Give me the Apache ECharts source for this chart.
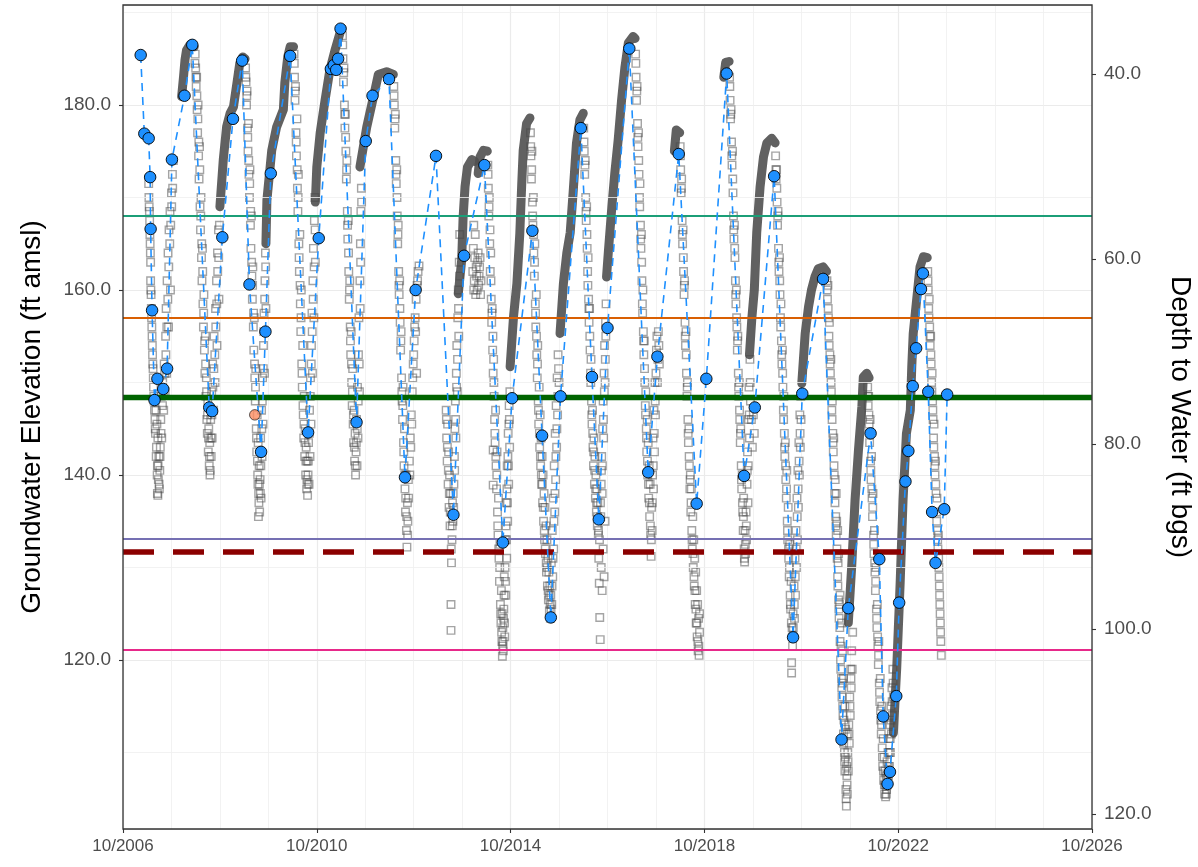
<!DOCTYPE html>
<html>
<head>
<meta charset="utf-8">
<title>Groundwater Elevation Hydrograph</title>
<script src="https://cdn.jsdelivr.net/npm/echarts@6/dist/echarts.min.js"></script>
<style>
  html, body { margin: 0; padding: 0; background: #ffffff; }
  #chart { width: 1198px; height: 867px; }
</style>
</head>
<body>
<div id="chart"></div>
<script>
// Ground surface elevation (ft amsl): depth to water = GROUND_ELEV - elevation
const GROUND_ELEV = 223.35;
// X axis runs in years counted from October 2006
const START_YEAR = 2006.75;
const ELEV_MIN = 101.73;
const ELEV_MAX = 190.81;

// Threshold / reference elevations (ft amsl)
const levelValues = [168.0, 157.05, 148.4, 133.1, 131.65, 121.15];
const levelColors = ['#1b9e77', '#d95f02', '#006400', '#7570b3', '#8b0000', '#e7298a'];
const levelWidths = [2, 2, 5.3, 2, 5.6, 2];
const levelDashed = [false, false, false, false, true, false];

// Minor horizontal grid lines
const minorElevGrid = [110, 130, 150, 170, 190];

// Manual water level soundings [decimal year, elevation]
const manualLevels = [
  [2007.115,185.4],[2007.19,176.9],[2007.28,176.4],[2007.31,172.2],[2007.32,166.6],[2007.35,157.8],
  [2007.40,148.1],[2007.46,150.4],[2007.58,149.3],[2007.66,151.5],[2007.76,174.1],[2008.02,181.0],
  [2008.18,186.5],[2008.53,147.3],[2008.59,146.9],[2008.80,165.7],[2009.02,178.5],[2009.21,184.8],
  [2009.36,160.6],[2009.60,142.5],[2009.69,155.5],[2009.80,172.6],[2010.20,185.3],[2010.57,144.6],
  [2010.79,165.6],[2011.04,183.9],[2011.10,184.3],[2011.15,183.8],[2011.19,185.0],[2011.24,188.25],
  [2011.57,145.7],[2011.76,176.1],[2011.90,181.0],[2012.24,182.8],[2012.57,139.75],[2012.79,160.0],
  [2013.21,174.5],[2013.57,135.7],[2013.79,163.7],[2014.21,173.5],[2014.59,132.7],[2014.78,148.3],
  [2015.20,166.4],[2015.40,144.25],[2015.58,124.6],[2015.78,148.5],[2016.20,177.5],[2016.43,150.6],
  [2016.57,135.2],[2016.75,155.9],[2017.20,186.1],[2017.59,140.3],[2017.78,152.8],[2018.22,174.7],
  [2018.59,136.9],[2018.79,150.4],[2019.21,183.4],[2019.57,139.9],[2019.79,147.3],[2020.19,172.3],
  [2020.58,122.45],[2020.77,148.8],[2021.20,161.2],[2021.58,111.4],[2021.72,125.6],[2022.18,144.5],
  [2022.36,130.9],[2022.44,113.9],[2022.53,106.6],[2022.58,107.9],[2022.71,116.1],[2022.77,126.2],
  [2022.90,139.3],[2022.96,142.6],[2023.05,149.6],[2023.12,153.7],[2023.22,160.1],[2023.26,161.8],
  [2023.37,149.0],[2023.45,136.0],[2023.52,130.5],[2023.70,136.3],[2023.76,148.7]
];

// Questionable manual sounding
const flaggedLevels = [[2009.47,146.5]];

// Transducer record, recovery limbs (continuous readings)
const loggerRecovery = [
  [[2007.96,180.9],[2008.00,183.1],[2008.03,184.9],[2008.06,185.9],[2008.13,186.5],[2008.22,186.3]],
  [[2008.75,169.0],[2008.82,174.1],[2008.89,177.7],[2008.96,179.1],[2009.03,179.8],[2009.10,182.3],[2009.16,184.5],[2009.22,185.2],[2009.27,185.0]],
  [[2009.70,165.0],[2009.72,169.7],[2009.82,175.1],[2009.92,177.6],[2010.06,179.5],[2010.09,182.4],[2010.15,185.2],[2010.20,186.3],[2010.27,186.3]],
  [[2010.72,169.5],[2010.75,173.3],[2010.82,177.0],[2010.92,180.5],[2011.02,183.8],[2011.13,186.0],[2011.23,187.8],[2011.27,188.3]],
  [[2011.64,173.3],[2011.78,177.6],[2011.95,181.6],[2012.02,183.3],[2012.19,183.6],[2012.33,183.3]],
  [[2013.67,159.6],[2013.74,163.2],[2013.77,167.9],[2013.81,171.2],[2013.86,173.3],[2013.95,174.1],[2014.01,173.9]],
  [[2014.08,172.6],[2014.12,174.4],[2014.19,175.1],[2014.27,175.0]],
  [[2014.74,151.7],[2014.81,157.1],[2014.88,160.7],[2014.94,166.1],[2014.98,171.5],[2015.01,175.1],[2015.08,178.0],[2015.15,178.6]],
  [[2015.77,155.3],[2015.84,160.7],[2015.91,164.0],[2015.98,166.2],[2016.04,170.5],[2016.11,175.9],[2016.18,178.4],[2016.25,179.1]],
  [[2016.73,161.4],[2016.77,164.3],[2016.84,169.0],[2016.90,172.6],[2016.97,176.2],[2017.04,180.5],[2017.11,184.1],[2017.18,186.7],[2017.28,187.4],[2017.32,187.2]],
  [[2018.13,175.0],[2018.17,177.3],[2018.24,177.0]],
  [[2019.15,183.0],[2019.19,184.6],[2019.26,184.7]],
  [[2019.68,153.0],[2019.73,157.0],[2019.78,160.0],[2019.83,166.2],[2019.90,171.2],[2019.97,174.4],[2020.04,175.9],[2020.14,176.4],[2020.21,175.9]],
  [[2020.76,149.9],[2020.83,155.3],[2020.90,158.2],[2020.96,160.0],[2021.03,161.4],[2021.10,162.3],[2021.20,162.5],[2021.27,162.0]],
  [[2021.72,124.0],[2021.79,130.1],[2021.86,137.3],[2021.93,142.7],[2022.00,147.4],[2022.03,150.6],[2022.10,151.0],[2022.15,150.5]],
  [[2022.65,112.1],[2022.72,119.2],[2022.79,128.3],[2022.85,137.3],[2022.92,144.5],[2023.00,147.0],[2023.03,151.7],[2023.06,155.3],[2023.13,158.9],[2023.20,162.5],[2023.27,163.6],[2023.35,163.5]]
];

// Transducer record, pumping seasons (readings swing with pump cycling)
const pumping2007 = [
  [2007.28,171.5],[2007.29,169],[2007.30,167.5],[2007.31,165],[2007.32,163],[2007.32,161],[2007.33,159.5],[2007.34,157],
  [2007.35,155],[2007.36,153],[2007.37,151.5],[2007.38,149.5],[2007.39,148],[2007.41,146],[2007.42,144.5],[2007.43,147],
  [2007.44,143],[2007.45,145.5],[2007.46,141],[2007.46,138],[2007.47,137.8],[2007.47,144],[2007.48,139.5],[2007.49,142],
  [2007.50,138.5],[2007.51,140.5],[2007.52,143],[2007.53,146],[2007.54,148.5],[2007.55,144],[2007.57,150],[2007.59,147],
  [2007.60,152],[2007.62,149],[2007.63,155],[2007.64,158],[2007.65,151],[2007.66,161],[2007.68,164],[2007.69,156],
  [2007.70,166.5],[2007.72,168.5],[2007.73,160],[2007.75,170.5],[2007.77,172.5],[2007.79,174],
  [2007.285,170],[2007.295,168.5],[2007.305,166],[2007.315,164],[2007.325,160],[2007.335,158],[2007.345,156],[2007.355,154],
  [2007.365,152],[2007.375,150.5],[2007.385,148.5],[2007.40,147],[2007.415,145],[2007.435,142],[2007.455,140],[2007.475,141],
  [2007.495,139],[2007.515,142],[2007.535,144.5],[2007.565,147.5],[2007.585,149],[2007.61,151],[2007.635,153],[2007.655,156],
  [2007.675,159],[2007.695,162.5],[2007.715,165],[2007.735,167],[2007.755,169],[2007.775,171]
];
const pumping2008 = [
  [2008.24,185.5],[2008.25,184],[2008.26,182],[2008.27,183],[2008.28,179.5],[2008.29,177],[2008.30,180],[2008.31,174.5],
  [2008.32,172],[2008.33,175.5],[2008.34,169],[2008.35,166.5],[2008.36,170],[2008.37,163.5],[2008.38,161],[2008.39,164.5],
  [2008.40,158.5],[2008.41,156],[2008.42,159.5],[2008.43,153.5],[2008.44,151],[2008.45,155],[2008.46,148.5],[2008.47,150.5],
  [2008.48,146],[2008.49,144.5],[2008.50,148],[2008.51,142.5],[2008.52,145],[2008.53,141],[2008.54,143.5],[2008.55,140.5],
  [2008.56,146],[2008.57,142],[2008.58,149],[2008.59,144],[2008.60,152],[2008.62,147],[2008.63,155],[2008.65,150],
  [2008.66,158],[2008.68,161],[2008.69,154],[2008.70,164],[2008.72,166.5],[2008.73,159],
  [2008.235,184.5],[2008.255,183],[2008.275,181],[2008.295,178.5],[2008.315,176],[2008.335,173],[2008.355,168],[2008.375,165],
  [2008.395,162],[2008.415,157.5],[2008.435,154.5],[2008.455,152],[2008.475,149],[2008.495,146.5],[2008.515,144],[2008.535,142],
  [2008.545,140],[2008.565,144],[2008.585,146.5],[2008.605,149.5],[2008.625,151.5],[2008.645,153],[2008.665,156],[2008.685,158.5],
  [2008.705,162],[2008.725,163.5],[2008.74,167]
];
const pumping2009 = [
  [2009.28,184],[2009.29,182.5],[2009.30,180],[2009.31,181.5],[2009.32,177.5],[2009.33,175],[2009.34,178],[2009.35,172.5],
  [2009.36,170],[2009.37,173],[2009.38,167],[2009.39,164.5],[2009.40,168],[2009.41,161.5],[2009.42,159],[2009.43,162.5],
  [2009.44,156],[2009.45,153.5],[2009.46,157],[2009.47,150.5],[2009.48,148],[2009.49,151.5],[2009.50,145],[2009.51,142.5],
  [2009.52,146.5],[2009.53,140],[2009.54,143.5],[2009.545,135.5],[2009.55,138],[2009.56,141],[2009.57,136],[2009.58,139.5],
  [2009.59,144],[2009.60,137.5],[2009.61,147],[2009.62,142],[2009.63,150.5],[2009.64,145.5],[2009.65,154],[2009.66,157.5],
  [2009.67,151],[2009.68,161],[2009.69,164],[2009.70,158],
  [2009.285,183],[2009.305,181],[2009.325,176.5],[2009.345,174],[2009.365,171.5],[2009.385,168.5],[2009.405,163],[2009.425,160.5],
  [2009.445,157.5],[2009.465,152],[2009.485,149.5],[2009.505,144],[2009.525,141.5],[2009.535,139],[2009.555,137],[2009.565,139],
  [2009.585,138],[2009.595,141],[2009.615,145],[2009.625,148],[2009.645,151.5],[2009.655,155.5],[2009.675,159],[2009.695,162.5]
];
const pumping2010 = [
  [2010.28,185.5],[2010.29,183],[2010.30,180.5],[2010.31,182],[2010.32,177],[2010.33,174.5],[2010.34,178.5],[2010.35,171],
  [2010.36,168.5],[2010.37,172.5],[2010.38,165],[2010.39,162],[2010.40,166],[2010.41,158.5],[2010.42,155.5],[2010.43,160],
  [2010.44,152],[2010.45,149.5],[2010.46,154],[2010.47,146.5],[2010.48,144],[2010.49,148.5],[2010.50,142],[2010.51,145],
  [2010.52,140],[2010.53,143],[2010.54,138.5],[2010.55,141.5],[2010.56,137.8],[2010.57,140],[2010.58,143.5],[2010.59,139],
  [2010.60,147],[2010.61,142],[2010.62,150.5],[2010.63,145.5],[2010.64,154],[2010.65,157.5],[2010.66,151],[2010.67,161],
  [2010.68,164.5],[2010.69,157],[2010.70,167.5],[2010.71,170],[2010.72,163],
  [2010.285,184.5],[2010.305,181.5],[2010.325,176],[2010.345,173],[2010.365,170],[2010.385,163.5],[2010.405,160.5],[2010.425,157],
  [2010.445,151],[2010.465,147.5],[2010.485,145.5],[2010.505,143.5],[2010.525,141.5],[2010.545,139.5],[2010.565,139],[2010.575,141.5],
  [2010.595,144.5],[2010.615,148.5],[2010.635,152],[2010.655,155.5],[2010.675,159],[2010.695,162.5],[2010.715,166.5]
];
const pumping2011 = [
  [2011.28,187.5],[2011.29,185],[2011.30,182.5],[2011.31,184],[2011.32,180],[2011.33,177.5],[2011.34,179],[2011.35,175],
  [2011.36,172],[2011.37,174],[2011.38,168.5],[2011.39,165.5],[2011.40,167.5],[2011.41,162],[2011.42,159],[2011.43,161],
  [2011.44,156],[2011.45,153],[2011.46,155.5],[2011.47,150],[2011.48,147.5],[2011.49,151.5],[2011.50,145.5],[2011.51,143.5],
  [2011.52,147],[2011.53,141.5],[2011.54,144.5],[2011.55,140],[2011.56,142.5],[2011.57,146],[2011.58,141],[2011.59,149.5],
  [2011.60,144],[2011.61,153],[2011.62,157],[2011.63,149],[2011.64,161],[2011.65,165],[2011.66,168.5],[2011.67,171],
  [2011.285,186.5],[2011.305,183.5],[2011.325,179],[2011.345,176.5],[2011.365,173],[2011.385,167],[2011.405,164],[2011.425,160],
  [2011.445,154.5],[2011.465,152],[2011.485,149],[2011.505,146.5],[2011.525,143],[2011.545,141],[2011.565,143.5],[2011.585,145],
  [2011.605,148],[2011.625,152],[2011.645,158],[2011.655,163],[2011.675,169.5]
];
const pumping2012 = [
  [2012.34,182],[2012.35,180],[2012.36,177.5],[2012.37,179],[2012.38,174],[2012.39,171.5],[2012.40,173],[2012.41,168],
  [2012.42,165],[2012.43,167],[2012.44,162],[2012.45,159.5],[2012.46,161],[2012.47,156.5],[2012.48,153.5],[2012.49,155.5],
  [2012.50,150.5],[2012.51,148],[2012.52,146],[2012.53,149.5],[2012.54,143.5],[2012.55,141],[2012.56,145],[2012.57,138.5],
  [2012.58,136],[2012.59,140],[2012.60,134],[2012.61,132.2],[2012.62,137],[2012.63,135],[2012.64,139.5],[2012.66,141.5],
  [2012.68,144],[2012.70,146.5],[2012.72,149],[2012.74,152],[2012.76,154.5],[2012.78,157],[2012.79,155.5],[2012.80,159],
  [2012.81,151],[2012.82,160.5],[2012.84,162],[2012.86,162.6],
  [2012.345,181],[2012.365,178.5],[2012.385,172.5],[2012.405,170],[2012.425,166],[2012.445,160.5],[2012.465,158],[2012.485,154.5],
  [2012.505,149],[2012.525,147.5],[2012.545,142.5],[2012.565,140],[2012.585,137.5],[2012.605,135.5],[2012.625,133.5],[2012.645,137.5],
  [2012.67,140],[2012.69,143],[2012.71,145.5],[2012.73,150.5],[2012.75,153],[2012.77,156],[2012.83,161]
];
const pumping2013 = [
  [2013.42,147],[2013.43,144],[2013.44,141.5],[2013.45,145.5],[2013.46,139],[2013.47,142.5],[2013.48,136.5],[2013.49,140],
  [2013.50,134.5],[2013.51,138],[2013.52,126],[2013.52,123.2],[2013.53,130.5],[2013.54,133],[2013.55,137],[2013.56,135],
  [2013.58,139],[2013.59,142],[2013.60,145],[2013.61,148],[2013.62,144],[2013.63,151],[2013.64,154],[2013.65,149],
  [2013.66,157],[2013.67,160],[2013.68,155],[2013.69,163],[2013.70,166],
  [2013.97,162],[2013.99,160],[2013.99,167],[2014.01,163.5],[2014.02,166],[2014.03,159.5],[2014.05,161.5],[2014.07,163],
  [2014.09,160.5],[2014.11,162.5],[2014.13,159.5],
  [2013.425,146],[2013.445,143],[2013.465,140.5],[2013.485,138],[2013.505,136],[2013.525,132],[2013.545,134.5],[2013.565,138],
  [2013.575,136.5],[2013.595,140.5],[2013.615,146],[2013.635,149.5],[2013.655,152.5],[2013.675,158],[2013.695,161.5],
  [2013.98,164.5],[2014.00,161],[2014.04,162.5],[2014.06,160],[2014.08,164],[2014.10,161.5],[2014.12,163.5],[2014.14,161]
];
const pumping2014 = [
  [2014.28,173.5],[2014.29,171],[2014.30,168],[2014.31,170],[2014.32,165],[2014.33,162],[2014.34,164],[2014.35,159],
  [2014.36,156.5],[2014.37,158],[2014.38,153.5],[2014.39,151],[2014.39,142.7],[2014.39,138.9],[2014.40,152.5],[2014.41,148.5],
  [2014.42,146],[2014.43,143.5],[2014.44,147],[2014.45,141],[2014.46,138.5],[2014.47,142.5],[2014.48,136],[2014.49,133.5],
  [2014.50,137.5],[2014.51,131],[2014.52,128.5],[2014.53,132.5],[2014.54,126],[2014.55,124],[2014.56,127.5],[2014.57,122],
  [2014.58,120.4],[2014.59,123.5],[2014.60,121],[2014.61,125.5],[2014.62,129],[2014.63,122.5],[2014.64,133],[2014.65,127],
  [2014.66,137],[2014.67,131],[2014.68,141],[2014.69,135],[2014.70,144.5],[2014.71,139],[2014.72,147.5],[2014.73,143],
  [2014.285,172.5],[2014.305,169],[2014.325,166.5],[2014.345,161],[2014.365,157.5],[2014.385,155],[2014.405,150],[2014.425,144.5],
  [2014.445,142],[2014.465,140],[2014.485,134.5],[2014.505,132],[2014.525,130],[2014.545,125],[2014.565,123],[2014.575,125],
  [2014.585,121.5],[2014.595,122],[2014.605,124.5],[2014.615,127],[2014.625,124],[2014.635,130],[2014.645,128.5],[2014.655,134.5],
  [2014.665,133],[2014.675,138.5],[2014.685,137],[2014.695,142],[2014.705,141],[2014.715,145.5],[2014.725,146],[2014.735,149]
];
const pumping2015 = [
  [2015.16,177],[2015.17,174.5],[2015.18,172],[2015.19,175],[2015.20,169.5],[2015.21,167],[2015.22,170],[2015.23,164],
  [2015.24,161.5],[2015.25,165],[2015.26,158.5],[2015.27,156],[2015.28,159.5],[2015.29,153],[2015.30,150.5],[2015.31,154],
  [2015.32,148],[2015.33,145.5],[2015.34,149.5],[2015.35,143],[2015.36,146.5],[2015.37,141],[2015.38,144],[2015.39,139],
  [2015.40,142],[2015.41,137],[2015.42,140],[2015.43,135],[2015.44,138],[2015.45,133],[2015.46,136.5],[2015.47,131.5],
  [2015.48,134.5],[2015.49,129.5],[2015.50,133],[2015.51,128],[2015.52,131],[2015.53,126.5],[2015.54,129.5],[2015.55,125.3],
  [2015.56,128],[2015.57,124.5],[2015.58,127],[2015.59,130.5],[2015.60,126],[2015.61,134],[2015.62,129],[2015.63,137.5],
  [2015.64,132],[2015.65,141],[2015.66,136],[2015.67,144.5],[2015.68,139.5],[2015.69,147.5],[2015.70,143],[2015.71,150.5],
  [2015.72,146.5],[2015.73,153],[2015.75,150],
  [2015.165,175.5],[2015.185,173],[2015.205,168],[2015.225,166],[2015.245,163],[2015.265,157.5],[2015.285,155],[2015.305,152],
  [2015.325,147],[2015.345,144.5],[2015.365,142],[2015.385,140],[2015.405,139],[2015.425,136.5],[2015.445,134],[2015.465,132],
  [2015.485,130.5],[2015.505,130],[2015.525,127.5],[2015.545,127],[2015.565,126],[2015.585,125.5],[2015.605,128],[2015.625,131],
  [2015.645,135],[2015.665,138],[2015.685,142],[2015.705,145],[2015.725,148.5],[2015.74,151.5]
];
const pumping2016 = [
  [2016.26,177.5],[2016.27,175],[2016.28,172.5],[2016.29,174],[2016.30,170],[2016.31,167.5],[2016.32,169],[2016.33,164.5],
  [2016.34,162],[2016.35,163.5],[2016.36,159],[2016.37,156.5],[2016.38,158],[2016.39,153.5],[2016.40,151],[2016.41,152.5],
  [2016.42,148],[2016.43,145.5],[2016.44,147],[2016.45,143],[2016.46,141],[2016.47,144],[2016.48,139],[2016.49,142],
  [2016.50,137.5],[2016.51,140],[2016.52,136],[2016.53,138.5],[2016.54,134.5],[2016.55,137],[2016.56,133.5],[2016.57,131],
  [2016.58,128.3],[2016.59,124.6],[2016.60,122.2],[2016.61,135.5],[2016.62,139],[2016.63,142],[2016.64,138],[2016.65,145],
  [2016.66,148],[2016.67,144],[2016.68,151],[2016.69,154],[2016.70,150],[2016.71,156.5],[2016.72,158.5],
  [2016.265,176],[2016.285,173.5],[2016.305,168.5],[2016.325,166],[2016.345,160.5],[2016.365,158],[2016.385,155],[2016.405,150],
  [2016.425,146.5],[2016.445,144.5],[2016.465,142.5],[2016.485,140.5],[2016.505,138.5],[2016.525,137],[2016.545,135.5],[2016.565,134],
  [2016.585,133],[2016.605,137],[2016.625,140.5],[2016.645,141],[2016.665,146],[2016.685,149],[2016.705,152.5],[2016.715,155],
  [2016.62,130],[2016.64,127.5],[2016.66,132],[2016.68,129],[2016.70,135]
];
const pumping2017 = [
  [2017.33,185.5],[2017.34,183],[2017.35,180.5],[2017.36,182],[2017.37,178],[2017.38,175.5],[2017.39,177],[2017.40,172.5],
  [2017.41,170],[2017.42,171.5],[2017.43,167],[2017.44,164.5],[2017.45,166],[2017.46,161],[2017.47,158.5],[2017.48,160],
  [2017.49,155.5],[2017.50,153],[2017.51,154.5],[2017.52,150],[2017.53,147.5],[2017.54,149],[2017.55,145],[2017.56,142.5],
  [2017.57,146],[2017.58,140],[2017.59,143.5],[2017.60,137.5],[2017.61,141],[2017.62,135.5],[2017.63,139],[2017.64,133.5],
  [2017.65,131.2],[2017.66,136.5],[2017.67,134],[2017.68,140],[2017.69,144],[2017.70,138.5],[2017.71,147],[2017.72,142.5],
  [2017.73,150],[2017.74,146.5],[2017.76,153.5],[2017.78,150],[2017.80,155.5],[2017.82,152],
  [2017.335,184.5],[2017.355,181.5],[2017.375,176.5],[2017.395,174],[2017.415,169],[2017.435,165.5],[2017.455,163],[2017.475,157.5],
  [2017.495,154.5],[2017.515,151.5],[2017.535,146.5],[2017.555,144],[2017.575,141.5],[2017.595,139],[2017.615,137],[2017.635,134.5],
  [2017.655,133],[2017.675,137],[2017.695,141],[2017.715,144.5],[2017.735,148],[2017.75,151],[2017.77,155],[2017.79,152.5],[2017.81,154]
];
const pumping2018 = [
  [2018.25,175.5],[2018.26,173],[2018.27,170.5],[2018.28,172],[2018.29,167.5],[2018.30,165],[2018.31,166.5],[2018.32,162],
  [2018.33,159.5],[2018.34,161],[2018.35,156.5],[2018.36,154],[2018.37,155.5],[2018.38,151],[2018.39,148.5],[2018.40,150],
  [2018.41,146],[2018.42,143.5],[2018.43,145],[2018.44,141],[2018.45,138.5],[2018.46,140],[2018.47,136],[2018.48,138.5],
  [2018.49,134],[2018.50,132],[2018.51,135.5],[2018.52,130],[2018.53,133],[2018.54,128],[2018.55,131],[2018.56,126],
  [2018.57,129.5],[2018.58,124],[2018.59,127.5],[2018.60,122.5],[2018.61,126],[2018.62,121],[2018.63,124.5],[2018.64,120.5],
  [2018.65,123],
  [2018.255,174.5],[2018.275,171],[2018.295,166],[2018.315,163.5],[2018.335,160.5],[2018.355,155],[2018.375,153],[2018.395,149.5],
  [2018.415,144.5],[2018.435,142],[2018.455,139.5],[2018.475,137],[2018.495,133],[2018.515,131.5],[2018.535,129],[2018.555,127.5],
  [2018.575,125.5],[2018.595,124],[2018.615,122],[2018.635,121.5],[2018.65,125]
];
const pumping2019 = [
  [2019.27,183],[2019.28,180.5],[2019.29,178.5],[2019.30,179.5],[2019.31,176],[2019.32,173.5],[2019.33,175],[2019.34,170.5],
  [2019.35,168],[2019.36,165.5],[2019.37,167],[2019.38,163.5],[2019.39,161],[2019.40,158.5],[2019.41,160],[2019.42,156],
  [2019.43,153.5],[2019.44,155],[2019.45,151],[2019.46,148.5],[2019.47,150],[2019.48,146],[2019.49,143.5],[2019.50,145],
  [2019.51,141],[2019.52,138.5],[2019.53,140],[2019.54,136],[2019.55,134],[2019.56,137.5],[2019.57,132],[2019.58,130.6],
  [2019.59,134],[2019.60,131.5],[2019.61,136],[2019.62,133],[2019.63,139],[2019.64,142.5],[2019.65,137],[2019.66,146],
  [2019.67,149.5],[2019.68,144],[2019.69,152.5],[2019.70,148],
  [2019.275,182],[2019.295,179],[2019.315,174.5],[2019.335,172],[2019.355,166.5],[2019.375,164.5],[2019.395,159.5],[2019.415,157],
  [2019.435,154.5],[2019.455,149.5],[2019.475,147],[2019.495,144.5],[2019.515,139.5],[2019.535,137],[2019.555,135.5],[2019.575,131],
  [2019.595,132.5],[2019.615,134.5],[2019.635,140.5],[2019.655,141],[2019.675,146.5],[2019.695,150],[2019.72,146],[2019.74,143],
  [2019.76,146.5],[2019.78,144.5]
];
const pumping2020 = [
  [2020.22,174.5],[2020.23,172],[2020.24,173],[2020.25,169.5],[2020.26,167],[2020.27,168.5],[2020.28,164.5],[2020.29,162],
  [2020.30,163.5],[2020.31,159.5],[2020.32,157],[2020.33,158.5],[2020.34,154.5],[2020.35,152],[2020.36,153.5],[2020.37,149.5],
  [2020.38,147],[2020.39,148.5],[2020.40,144.5],[2020.41,142],[2020.42,143.5],[2020.43,139.5],[2020.44,137.5],[2020.45,140.5],
  [2020.46,135],[2020.47,133],[2020.48,136.5],[2020.49,131],[2020.50,129],[2020.51,132.5],[2020.52,127],[2020.53,125.5],
  [2020.54,128.5],[2020.55,119.7],[2020.55,118.6],[2020.56,123.5],[2020.57,121.5],[2020.58,125],[2020.59,122.5],[2020.60,128],
  [2020.61,124.5],[2020.62,131],[2020.63,127],[2020.64,134],[2020.65,130],[2020.66,137.5],[2020.67,133],[2020.68,140.5],
  [2020.69,136.5],[2020.70,143.5],[2020.71,140],[2020.72,146.5],[2020.73,143],[2020.74,148.5],
  [2020.225,173],[2020.245,171],[2020.265,168],[2020.285,163],[2020.305,161],[2020.325,156],[2020.345,153],[2020.365,151],
  [2020.385,146],[2020.405,143],[2020.425,141],[2020.445,138.5],[2020.465,134],[2020.485,132],[2020.505,130],[2020.525,126],
  [2020.545,124],[2020.565,122.5],[2020.585,123.5],[2020.605,126],[2020.625,129],[2020.645,132],[2020.665,135.5],[2020.685,138.5],
  [2020.705,141.5],[2020.725,144.5],[2020.745,146]
];
const pumping2021 = [
  [2021.28,161],[2021.29,159],[2021.30,160.5],[2021.31,157],[2021.32,155],[2021.33,156.5],[2021.34,153],[2021.35,151],
  [2021.36,152.5],[2021.37,149],[2021.38,147],[2021.39,148],[2021.40,144.5],[2021.41,142.5],[2021.42,144],[2021.43,140],
  [2021.44,138],[2021.45,139.5],[2021.46,135.5],[2021.47,133.5],[2021.47,138],[2021.48,135],[2021.49,131],[2021.50,129],
  [2021.50,134],[2021.51,130.5],[2021.52,126.5],[2021.52,131.5],[2021.53,124.5],[2021.54,126],[2021.55,122],[2021.55,127],
  [2021.56,120],[2021.57,121.5],[2021.58,118],[2021.58,124],[2021.59,116],[2021.60,117.5],[2021.60,121],[2021.61,114],
  [2021.62,112],[2021.62,118],[2021.63,113.5],[2021.64,110],[2021.65,108],[2021.65,115],[2021.66,109.5],[2021.66,112.5],
  [2021.67,106],[2021.68,104.2],[2021.69,107.5],[2021.70,105.5],[2021.70,112],[2021.71,110],[2021.72,108],[2021.73,113],
  [2021.74,111],[2021.75,116],[2021.76,114],[2021.77,119],[2021.78,117],
  [2021.285,160],[2021.305,158],[2021.325,154],[2021.345,152],[2021.365,150],[2021.385,146],[2021.405,143.5],[2021.425,141],
  [2021.445,137],[2021.465,134.5],[2021.485,132],[2021.505,128],[2021.525,125.5],[2021.545,123.5],[2021.565,119],[2021.585,117],
  [2021.605,115],[2021.625,111],[2021.645,109],[2021.655,113],[2021.675,105],[2021.685,108.5],[2021.695,106.5],[2021.715,109],
  [2021.735,112],[2021.755,115],[2021.775,118],[2021.79,121],[2021.80,119],[2021.81,123]
];
const pumping2022 = [
  [2022.12,149.5],[2022.13,147.5],[2022.14,148.5],[2022.15,145.5],[2022.16,143.5],[2022.17,146],[2022.18,141.5],[2022.19,139.5],
  [2022.20,142],[2022.21,137.5],[2022.22,135.5],[2022.23,138],[2022.24,133.5],[2022.25,131.5],[2022.26,134],[2022.27,129.5],
  [2022.28,127.5],[2022.29,130],[2022.30,125.5],[2022.31,123.5],[2022.32,126],[2022.33,121.5],[2022.34,119.5],[2022.35,122],
  [2022.36,117.5],[2022.37,115.5],[2022.38,118],[2022.39,113.5],[2022.40,112],[2022.41,115],[2022.42,110.5],[2022.43,108.5],
  [2022.44,111.5],[2022.45,107],[2022.46,109.5],[2022.47,105.5],[2022.48,108],[2022.49,105.2],[2022.50,107.5],[2022.51,106],
  [2022.52,109],[2022.53,106.5],[2022.54,110],[2022.55,107.5],[2022.56,111.5],[2022.57,108.5],[2022.58,113],[2022.59,110],
  [2022.60,115],[2022.61,112],[2022.62,117],[2022.63,114],[2022.64,119],[2022.65,116],
  [2022.125,148.5],[2022.145,146.5],[2022.165,144.5],[2022.185,140.5],[2022.205,138.5],[2022.225,136.5],[2022.245,132.5],[2022.265,130.5],
  [2022.285,128.5],[2022.305,124.5],[2022.325,122.5],[2022.345,120.5],[2022.365,116.5],[2022.385,114.5],[2022.405,113],[2022.425,109.5],
  [2022.445,108],[2022.465,106.5],[2022.485,106.5],[2022.505,105.5],[2022.525,107.5],[2022.545,108.5],[2022.565,110],[2022.585,111.5],
  [2022.605,113.5],[2022.625,115.5],[2022.645,117.5]
];
const pumping2023 = [
  [2023.36,162],[2023.37,160],[2023.38,158],[2023.39,159],[2023.40,156],[2023.41,154],[2023.42,155],[2023.43,152],
  [2023.44,150],[2023.45,151],[2023.46,148],[2023.47,146],[2023.48,144],[2023.49,145.5],[2023.50,142],[2023.51,140],
  [2023.52,141.5],[2023.53,138],[2023.54,136],[2023.55,137.5],[2023.56,134],[2023.57,132],[2023.58,133.5],[2023.59,130],
  [2023.60,128],[2023.61,126],[2023.62,124],[2023.63,122],[2023.64,120.5],
  [2023.365,161],[2023.385,157],[2023.405,155],[2023.425,153],[2023.445,149],[2023.465,147],[2023.485,143],[2023.505,141],
  [2023.525,139],[2023.545,135],[2023.565,133],[2023.585,131],[2023.595,129],[2023.605,127],[2023.615,125],[2023.625,123]
];
const loggerPumping = [
  pumping2007, pumping2008, pumping2009, pumping2010, pumping2011, pumping2012, pumping2013, pumping2014,
  pumping2015, pumping2016, pumping2017, pumping2018, pumping2019, pumping2020, pumping2021, pumping2022, pumping2023
];

const toAxis = ([t, v]) => [t - START_YEAR, v];
const FONT = '"Liberation Sans", Arial, Helvetica, sans-serif';
const LABEL_COLOR = '#4d4d4d';
const TICK_COLOR = '#333333';

// Plot panel box (pixels) shared by the grid and its frame
const PANEL = { left: 123, top: 5, width: 969, height: 824 };

const series = [];

// Minor horizontal grid
series.push({
  type: 'line', data: [], silent: true, z: 0,
  markLine: {
    silent: true, symbol: 'none', animation: false, label: { show: false },
    lineStyle: { color: '#efefef', width: 0.8, type: 'solid' },
    data: minorElevGrid.map(v => ({ yAxis: v }))
  }
});

// Transducer recovery limbs drawn as dense bands
loggerRecovery.forEach(seg => {
  series.push({
    type: 'line', data: seg.map(toAxis), showSymbol: false, z: 1, silent: true,
    lineStyle: { color: 'rgba(80,80,80,0.9)', width: 9, cap: 'round', join: 'round' }
  });
});

// Transducer pumping-season readings as hollow squares
series.push({
  type: 'scatter', z: 1, silent: true,
  data: loggerPumping.flat().map(toAxis),
  symbol: 'rect', symbolSize: 7.5,
  itemStyle: { color: 'rgba(0,0,0,0)', borderColor: 'rgba(70,70,70,0.62)', borderWidth: 1.4 }
});

// Threshold levels
levelValues.forEach((v, i) => {
  series.push({
    type: 'line', data: [], z: 3, silent: true,
    markLine: {
      silent: true, symbol: 'none', animation: false, label: { show: false },
      lineStyle: {
        color: levelColors[i], width: levelWidths[i],
        type: levelDashed[i] ? [31, 19] : 'solid', cap: 'butt', opacity: 1
      },
      data: [{ yAxis: v }]
    }
  });
});

// Manual soundings joined by a dashed line
series.push({
  type: 'line', z: 5, data: manualLevels.map(toAxis),
  showSymbol: true, showAllSymbol: true, symbol: 'circle', symbolSize: 11.5,
  lineStyle: { color: '#1e90ff', width: 1.6, type: [8, 6] },
  itemStyle: { color: '#1e90ff', borderColor: '#000000', borderWidth: 0.9 }
});

// Flagged sounding
series.push({
  type: 'scatter', z: 6, data: flaggedLevels.map(toAxis),
  symbol: 'circle', symbolSize: 10.5,
  itemStyle: { color: '#fc8d62', borderColor: '#000000', borderWidth: 0.8 }
});

const chart = echarts.init(document.getElementById('chart'), null, { renderer: 'canvas' });
chart.setOption({
  animation: false,
  backgroundColor: '#ffffff',
  grid: {
    left: PANEL.left, top: PANEL.top, width: PANEL.width, height: PANEL.height,
    show: false, containLabel: false, outerBoundsMode: 'none'
  },
  // Panel frame drawn above the grid lines
  graphic: [{
    type: 'rect', z: 100, silent: true,
    shape: { x: PANEL.left, y: PANEL.top, width: PANEL.width, height: PANEL.height },
    style: { fill: 'none', stroke: '#333333', lineWidth: 1.3 }
  }],
  xAxis: {
    type: 'value', min: 0, max: 20, interval: 4,
    axisLine: { show: false },
    axisTick: { show: true, inside: false, length: 4, lineStyle: { color: TICK_COLOR, width: 1.1 } },
    axisLabel: {
      color: LABEL_COLOR, fontSize: 17, fontFamily: FONT, margin: 9,
      formatter: v => '10/' + (2006 + v)
    },
    splitLine: { show: true, lineStyle: { color: '#ebebeb', width: 1.2 } },
    minorTick: { show: false, splitNumber: 4 },
    minorSplitLine: { show: true, lineStyle: { color: '#efefef', width: 0.8 } }
  },
  yAxis: [
    {
      type: 'value', min: ELEV_MIN, max: ELEV_MAX, position: 'left',
      name: 'Groundwater Elevation (ft amsl)', nameLocation: 'middle', nameGap: 77,
      nameTextStyle: { color: '#000000', fontSize: 28, fontFamily: FONT },
      axisLine: { show: false },
      axisTick: { show: true, inside: false, length: 4, lineStyle: { color: TICK_COLOR, width: 1.1 } },
      axisLabel: {
        color: LABEL_COLOR, fontSize: 19, fontFamily: FONT, margin: 12,
        showMinLabel: false, showMaxLabel: false,
        formatter: v => v.toFixed(1)
      },
      splitLine: { show: true, lineStyle: { color: '#ebebeb', width: 1.2 } }
    },
    {
      type: 'value', inverse: true, position: 'right',
      min: GROUND_ELEV - ELEV_MAX, max: GROUND_ELEV - ELEV_MIN,
      name: 'Depth to Water (ft bgs)', nameLocation: 'middle', nameGap: 74, nameRotate: -90,
      nameTextStyle: { color: '#000000', fontSize: 28, fontFamily: FONT },
      axisLine: { show: false },
      axisTick: { show: true, inside: false, length: 4, lineStyle: { color: TICK_COLOR, width: 1.1 } },
      axisLabel: {
        color: LABEL_COLOR, fontSize: 19, fontFamily: FONT, margin: 12,
        showMinLabel: false, showMaxLabel: false,
        formatter: v => v.toFixed(1)
      },
      splitLine: { show: false }
    }
  ],
  series: series
});
</script>
</body>
</html>
